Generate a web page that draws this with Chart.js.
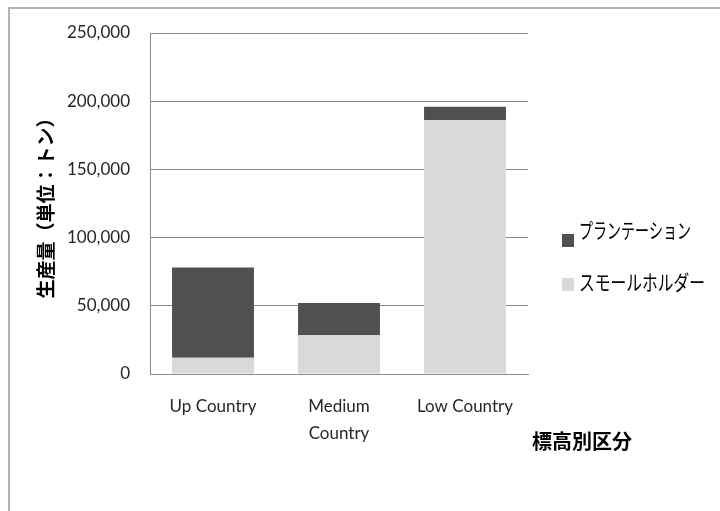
<!DOCTYPE html>
<html>
<head>
<meta charset="utf-8">
<script src="https://cdn.jsdelivr.net/npm/chart.js@4/dist/chart.umd.min.js"></script>
<style>
  html, body { margin: 0; padding: 0; background: #fff; }
  #wrap { position: relative; width: 720px; height: 511px; overflow: hidden; }
  #frame { position: absolute; left: 8px; top: 7px; width: 800px; height: 600px;
           border-left: 2px solid #b3b3b3; border-top: 2px solid #b3b3b3; pointer-events: none; }
  canvas { position: absolute; left: 0; top: 0; }
</style>
</head>
<body>
<div id="wrap">
  <canvas id="c" width="720" height="511"></canvas>
  <div id="frame"></div>
</div>
<script>
// Elevation zones
const categories = ['Up Country', ['Medium', 'Country'], 'Low Country'];
// Production in tonnes
const smallholder = [12000, 28500, 186000];
const plantation = [66000, 23500, 10000];
const seriesNames = ['スモールホルダー', 'プランテーション'];
const yTicks = [0, 50000, 100000, 150000, 200000, 250000];
const yTitle = '生産量（単位：トン）';
const xTitle = '標高別区分';

const GRID = '#8a8a8a';
const TEXT = '#262626';
const LABEL_FONT = { family: 'Lato, "Liberation Sans", sans-serif', size: 17, lineHeight: '27px' };

// Legend at the right (top series first) and the category-axis title
const sideText = {
  id: 'sideText',
  afterDraw(chart) {
    const ctx = chart.ctx;
    ctx.save();
    const sets = chart.data.datasets.slice().reverse();
    const rows = [{ box: 234, text: 230, w: 112 }, { box: 278, text: 282, w: 126 }];
    sets.forEach((ds, i) => {
      const r = rows[i];
      ctx.fillStyle = ds.backgroundColor;
      ctx.fillRect(562, r.box, 12, 13);
      ctx.fillStyle = '#000';
      ctx.font = '21px "Noto Sans CJK JP", sans-serif';
      ctx.textAlign = 'left';
      ctx.textBaseline = 'middle';
      ctx.fillText(ds.label, 579, r.text, r.w);
    });
    ctx.font = 'bold 20px "Noto Sans CJK JP", sans-serif';
    ctx.textAlign = 'center';
    ctx.textBaseline = 'middle';
    ctx.fillStyle = '#000';
    ctx.fillText(xTitle, 582, 441, 104);
    ctx.restore();
  }
};

new Chart(document.getElementById('c'), {
  type: 'bar',
  data: {
    labels: categories,
    datasets: [
      { label: seriesNames[0], data: smallholder, backgroundColor: '#d9d9d9' },
      { label: seriesNames[1], data: plantation, backgroundColor: '#505050' }
    ]
  },
  options: {
    responsive: false,
    animation: false,
    events: [],
    layout: { padding: { top: 33, right: 192, left: 0, bottom: 0 } },
    datasets: { bar: { barPercentage: 0.65, categoryPercentage: 1 } },
    plugins: { legend: { display: false }, tooltip: { enabled: false } },
    scales: {
      x: {
        stacked: true,
        grid: { display: false, drawTicks: false },
        border: { display: true, color: GRID, width: 1 },
        ticks: { color: TEXT, font: LABEL_FONT, padding: 19, maxRotation: 0, autoSkip: false },
        afterFit(scale) { scale.height = 137; }
      },
      y: {
        stacked: true,
        min: 0,
        max: 250000,
        afterBuildTicks(scale) { scale.ticks = yTicks.map(v => ({ value: v })); },
        grid: { color: GRID, lineWidth: 1, drawTicks: false },
        border: { display: true, color: GRID, width: 1 },
        ticks: {
          color: TEXT,
          font: { family: 'Lato, "Liberation Sans", sans-serif', size: 17 },
          padding: 20,
          callback: v => v.toLocaleString('en-US')
        },
        title: {
          display: true,
          text: yTitle,
          color: '#000',
          font: { family: '"Noto Sans CJK JP", sans-serif', size: 19, weight: 'bold', lineHeight: 1.2 },
          padding: { top: 34, bottom: 0 }
        },
        afterFit(scale) { scale.width = 150; }
      }
    }
  },
  plugins: [sideText]
});
</script>
</body>
</html>
